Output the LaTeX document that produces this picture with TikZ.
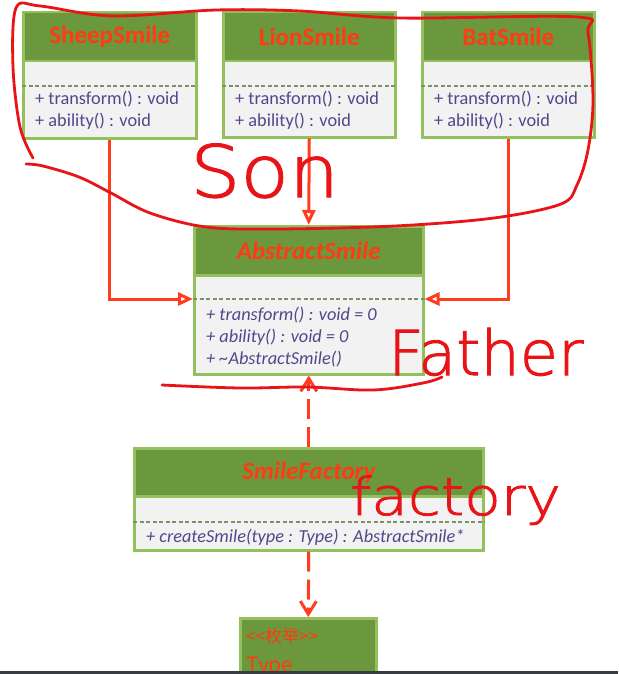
\documentclass[tikz,border=0pt]{standalone}
\usepackage{fontspec}
\setmainfont{Carlito}
\newfontfamily\cjkf{Noto Sans CJK SC}
\newfontfamily\handf{DejaVu Sans ExtraLight}[FakeBold=1.6]
\usetikzlibrary{arrows.meta,calc}
\definecolor{hdrgreen}{RGB}{107,152,60}
\definecolor{bordergreen}{RGB}{147,191,92}
\definecolor{bodygray}{RGB}{242,242,242}
\definecolor{titlered}{RGB}{255,58,20}
\definecolor{memberpurple}{RGB}{84,70,138}
\definecolor{linkred}{RGB}{255,60,30}
\definecolor{inkred}{RGB}{232,20,24}
\definecolor{sepgray}{RGB}{125,145,105}
\definecolor{barcolor}{RGB}{55,60,66}
\begin{document}
\begin{tikzpicture}[x=1pt,y=-1pt,
  cbody/.style={draw=bordergreen, line width=2.5pt, fill=bodygray, anchor=north west, inner sep=0pt},
  chead/.style={draw=bordergreen, line width=2.5pt, fill=hdrgreen, anchor=north west, inner sep=0pt,
    text=titlered, font=\fontsize{25}{28}\selectfont\bfseries},
  member/.style={anchor=base west, inner sep=0pt, text=memberpurple, font=\fontsize{18.3}{22}\selectfont},
  sepline/.style={draw=sepgray, line width=1.2pt, dash pattern=on 4pt off 2.5pt},
  inh/.style={draw=linkred, line width=3pt, -{Triangle[open, length=15pt, width=13pt, fill=white]}},
  dep/.style={draw=linkred, line width=3pt, dash pattern=on 20pt off 8pt, -{Straight Barb[length=13pt, width=16pt]}},
  ink/.style={draw=inkred, line width=2.8pt, line cap=round, line join=round},
  handtext/.style={text=inkred, inner sep=0pt, anchor=base west}]
\clip (0,0) rectangle (618,674);
\fill[white] (0,0) rectangle (618,674);

% ---- SheepSmile
\node[cbody, minimum width=173pt, minimum height=126pt] (sheep) at (22,11) {};
\node[chead, minimum width=173pt, minimum height=49pt] (sheepT) at (sheep.north west) {SheepSmile};
\draw[sepline] ($(sheep.north west)+(0,75)$) coordinate (sheepS1) -- ($(sheep.north east)+(0,75)$) coordinate (sheepS2);
\node[member] (sheepM1) at ($(sheep.north west)+(13,94)$) {+ transform() : void};
\node[member] (sheepM2) at ($(sheep.north west)+(13,116)$) {+ ability() : void};

% ---- LionSmile
\node[cbody, minimum width=172pt, minimum height=125pt] (lion) at (222,11) {};
\node[chead, minimum width=172pt, minimum height=49pt] (lionT) at (lion.north west) {LionSmile};
\draw[sepline] ($(lion.north west)+(0,75)$) coordinate (lionS1) -- ($(lion.north east)+(0,75)$) coordinate (lionS2);
\node[member] (lionM1) at ($(lion.north west)+(13,94)$) {+ transform() : void};
\node[member] (lionM2) at ($(lion.north west)+(13,116)$) {+ ability() : void};

% ---- BatSmile
\node[cbody, minimum width=172pt, minimum height=125pt] (bat) at (421,11) {};
\node[chead, minimum width=172pt, minimum height=49pt] (batT) at (bat.north west) {BatSmile};
\draw[sepline] ($(bat.north west)+(0,75)$) coordinate (batS1) -- ($(bat.north east)+(0,75)$) coordinate (batS2);
\node[member] (batM1) at ($(bat.north west)+(13,94)$) {+ transform() : void};
\node[member] (batM2) at ($(bat.north west)+(13,116)$) {+ ability() : void};

% ---- AbstractSmile
\node[cbody, minimum width=229pt, minimum height=148pt] (abs) at (193,225) {};
\node[chead, minimum width=229pt, minimum height=49pt] (absT) at (abs.north west) {\itshape AbstractSmile};
\draw[sepline] ($(abs.north west)+(0,74)$) coordinate (absL) -- ($(abs.north east)+(0,74)$) coordinate (absR);
\node[member] (absM1) at ($(abs.north west)+(13,95)$) {\itshape + transform() : void = 0};
\node[member] (absM2) at ($(abs.north west)+(13,117)$) {\itshape + ability() : void = 0};
\node[member] (absM3) at ($(abs.north west)+(13,139)$) {\itshape + \char"7E AbstractSmile()};

% ---- SmileFactory
\node[cbody, minimum width=349pt, minimum height=102pt] (fac) at (133,447) {};
\node[chead, minimum width=349pt, minimum height=48pt] (facT) at (fac.north west) {\itshape SmileFactory};
\draw[sepline] ($(fac.north west)+(0,75)$) coordinate (facS1) -- ($(fac.north east)+(0,75)$) coordinate (facS2);
\node[member] (facM1) at ($(fac.north west)+(13,95)$) {\itshape + createSmile(type : Type) : AbstractSmile*};

% ---- Type (enumeration)
\node[draw=bordergreen, line width=2.5pt, fill=hdrgreen, anchor=north west, inner sep=0pt,
      minimum width=136pt, minimum height=80pt] (type) at (239,617) {};
\node[anchor=west, inner sep=0pt, text=titlered, font=\cjkf\fontsize{17}{19}\selectfont] (typeS) at ($(type.north west)+(7,19)$) {<<枚举>>};
\node[anchor=base west, inner sep=0pt, text=titlered, font=\cjkf\fontsize{21}{24}\selectfont] (typeN) at ($(type.north west)+(7,55)$) {Type};

% ---- connectors
\draw[inh] (sheep.south) |- (absL);
\draw[inh] (lion.south) -- (abs.north);
\draw[inh] (bat.south) |- (absR);
\draw[dep] (fac.north) -- (abs.south);
\draw[dep] (fac.south) -- (type.north);

% ---- handwritten annotations
\draw[ink] plot[smooth, tension=0.55] coordinates {
  (33,158) (20,127) (13,67) (16,8) (40,6) (112,16) (216,10) (300,11) (400,18) (577,17)
  (588,33) (593,100) (588,150) (577,185) (561,204) (494,218) (395,226) (277,229)
  (206,227) (150,213) (111,193) (79,177) (43,166) (26,164)};
\draw[ink] plot[smooth, tension=0.6] coordinates {
  (162,385) (240,388) (307,387) (373,390) (423,383) (442,377)};
\node[handtext, font=\handf\fontsize{72}{72}\selectfont] (son) at (190,197) {\scalebox{1.1}[1]{Son}};
\node[handtext, font=\handf\fontsize{62}{62}\selectfont] (father) at (388,375) {\scalebox{1.0}[1]{Father}};
\node[handtext, font=\handf\fontsize{52}{52}\selectfont] (factory) at (350,515) {\scalebox{1.15}[1]{factory}};

% ---- bottom screen edge
\fill[barcolor] (0,671) rectangle (618,674);
\end{tikzpicture}
\end{document}
